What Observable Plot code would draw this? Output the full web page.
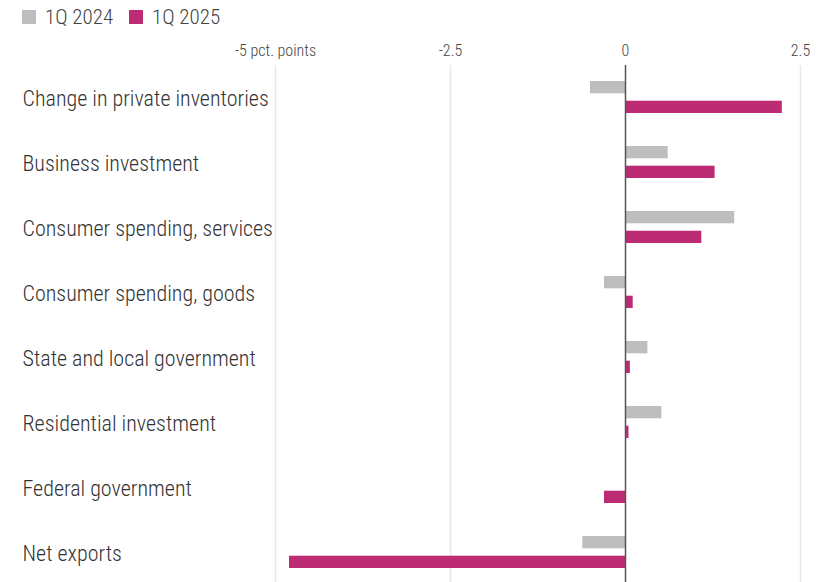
<!DOCTYPE html>
<html><head><meta charset="utf-8">
<script src="https://cdn.jsdelivr.net/npm/d3@7"></script>
<script src="https://cdn.jsdelivr.net/npm/@observablehq/plot@0.6"></script>
<style>
  html, body { margin: 0; padding: 0; background: #fff; overflow: hidden; }
  #legend { height: 30px; position: relative; font-family: "Roboto Condensed", sans-serif; font-size: 21px; font-weight: 300; color: #444; }
  .item { position: absolute; top: 2px; height: 30px; display: flex; align-items: center; }
  .sw { width: 14px; height: 14px; margin-right: 9px; }
</style>
</head><body>
<div id="legend"></div>
<div id="chart"></div>
<script>
const categories = [
  "Change in private inventories",
  "Business investment",
  "Consumer spending, services",
  "Consumer spending, goods",
  "State and local government",
  "Residential investment",
  "Federal government",
  "Net exports"
];
const seriesNames = ["1Q 2024", "1Q 2025"];
const seriesColors = ["#bebebe", "#bd2b74"];
const values2024 = [-0.50, 0.61, 1.56, -0.30, 0.32, 0.52, 0.00, -0.61];
const values2025 = [2.24, 1.28, 1.09, 0.11, 0.07, 0.05, -0.30, -4.80];
const xTicks = [-5, -2.5, 0, 2.5];
const xTickLabels = ["-5 pct. points", "-2.5", "0", "2.5"];

const rows2024 = categories.map((c, i) => ({category: c, series: seriesNames[0], value: values2024[i]}));
const rows2025 = categories.map((c, i) => ({category: c, series: seriesNames[1], value: values2025[i]}));

// legend
const legend = document.getElementById("legend");
const legendX = [22, 129];
seriesNames.forEach((s, i) => {
  const it = document.createElement("div");
  it.className = "item";
  it.style.left = legendX[i] + "px";
  it.innerHTML = `<span class="sw" style="background:${seriesColors[i]}"></span><span>${s}</span>`;
  legend.appendChild(it);
});

const FONT = "Roboto Condensed, sans-serif";
const chart = Plot.plot({
  width: 829,
  height: 552,
  marginLeft: 275,
  marginRight: 29,
  marginTop: 35,
  marginBottom: 0,
  style: {fontFamily: FONT, background: "#fff"},
  x: {domain: [-5, 2.5], ticks: xTicks, label: null},
  y: {domain: categories, range: [33.4, 555], paddingInner: 0.505, paddingOuter: 0.2525, axis: null},
  marks: [
    Plot.ruleX(xTicks.filter(t => t !== 0), {stroke: "#e8e8e8", strokeWidth: 1.5}),
    Plot.axisX({
      anchor: "top", ticks: xTicks, tickSize: 0, tickPadding: 10, label: null,
      tickFormat: d => xTickLabels[xTicks.indexOf(d)],
      fontSize: 16, fontWeight: 300, fill: "#444"
    }),
    Plot.barX(rows2024, {x: "value", y: "category", fill: seriesColors[0], insetBottom: 19.7}),
    Plot.barX(rows2025, {x: "value", y: "category", fill: seriesColors[1], insetTop: 19.7}),
    Plot.ruleX([0], {stroke: "#555", strokeWidth: 1.5}),
    Plot.text(categories, {
      y: d => d, frameAnchor: "left", textAnchor: "start", dx: -253, dy: 1,
      fontSize: 22, fontWeight: 300, fill: "#333"
    })
  ]
});
document.getElementById("chart").appendChild(chart);
</script></body></html>
